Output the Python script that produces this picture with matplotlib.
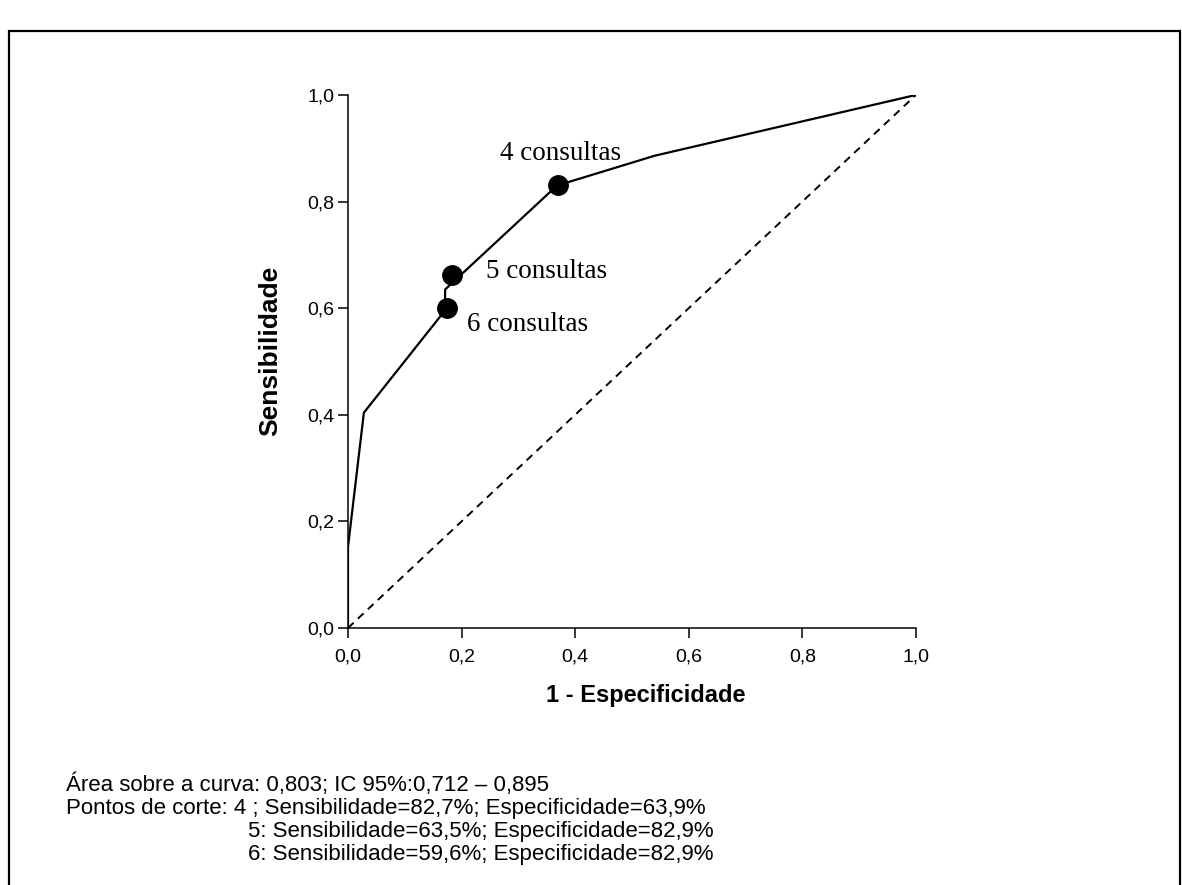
import matplotlib.pyplot as plt
import matplotlib.patches as patches
from matplotlib.ticker import FuncFormatter

# ROC curve (1 - especificidade, sensibilidade)
fpr = [0.0, 0.0, 0.028, 0.171, 0.171, 0.368, 0.540, 1.0]
tpr = [0.0, 0.152, 0.404, 0.596, 0.635, 0.830, 0.886, 1.0]

# marked cut-off points and their labels
cut_x = [0.370, 0.183, 0.174]
cut_y = [0.831, 0.662, 0.600]
cut_labels = ["4 consultas", "5 consultas", "6 consultas"]
label_pos = [(0.268, 0.878), (0.243, 0.657), (0.21, 0.557)]

ticks = [0.0, 0.2, 0.4, 0.6, 0.8, 1.0]

notes = [
    "Área sobre a curva: 0,803; IC 95%:0,712 – 0,895",
    "Pontos de corte: 4 ; Sensibilidade=82,7%; Especificidade=63,9%",
    "5: Sensibilidade=63,5%; Especificidade=82,9%",
    "6: Sensibilidade=59,6%; Especificidade=82,9%",
]

sans = ["Liberation Sans", "DejaVu Sans"]
serif = ["Liberation Serif", "DejaVu Serif"]

fig = plt.figure(figsize=(11.82, 8.85), dpi=100)
ax = fig.add_axes([0.2944, 0.2904, 0.4805, 0.6023])

ax.plot(fpr, tpr, color="black", lw=1.6, zorder=3)
ax.plot([0, 1], [0, 1], color="black", lw=1.4, ls=(0, (4, 3)), zorder=2)
ax.plot(cut_x, cut_y, "o", color="black", ms=14, zorder=4)
for lab, (tx, ty) in zip(cut_labels, label_pos):
    ax.text(tx, ty, lab, family=serif, fontsize=19.5, ha="left", va="baseline")

ax.set_xlim(0, 1)
ax.set_ylim(0, 1)
ax.set_xticks(ticks)
ax.set_yticks(ticks)
fmt = FuncFormatter(lambda v, p: f"{v:.1f}".replace(".", ","))
ax.xaxis.set_major_formatter(fmt)
ax.yaxis.set_major_formatter(fmt)
for lbl in ax.get_xticklabels() + ax.get_yticklabels():
    lbl.set_family(sans)
    lbl.set_fontsize(14)
ax.tick_params(axis="both", direction="out", length=7, width=1.1)
ax.tick_params(axis="x", pad=8)
ax.tick_params(axis="y", pad=3)
ax.spines["top"].set_visible(False)
ax.spines["right"].set_visible(False)
for s in ["left", "bottom"]:
    ax.spines[s].set_linewidth(1.1)
ax.set_xlabel("1 - Especificidade", family=sans, fontsize=17, fontweight="bold")
ax.set_ylabel("Sensibilidade", family=sans, fontsize=19, fontweight="bold")
ax.xaxis.set_label_coords(0.525, -0.105)
ax.yaxis.set_label_coords(-0.115, 0.52)

# outer frame
fig.patches.append(patches.Rectangle((9 / 1182, -0.02), 1171 / 1182, 0.985,
                                     transform=fig.transFigure, fill=False,
                                     edgecolor="black", lw=1.6))

# footnote text
fig.text(66 / 1182, 1 - 791 / 885, notes[0], family=sans, fontsize=16, va="baseline")
fig.text(66 / 1182, 1 - 814 / 885, notes[1], family=sans, fontsize=16, va="baseline")
fig.text(248 / 1182, 1 - 837 / 885, notes[2], family=sans, fontsize=16, va="baseline")
fig.text(248 / 1182, 1 - 860 / 885, notes[3], family=sans, fontsize=16, va="baseline")

fig.savefig("out.png", dpi=100)
